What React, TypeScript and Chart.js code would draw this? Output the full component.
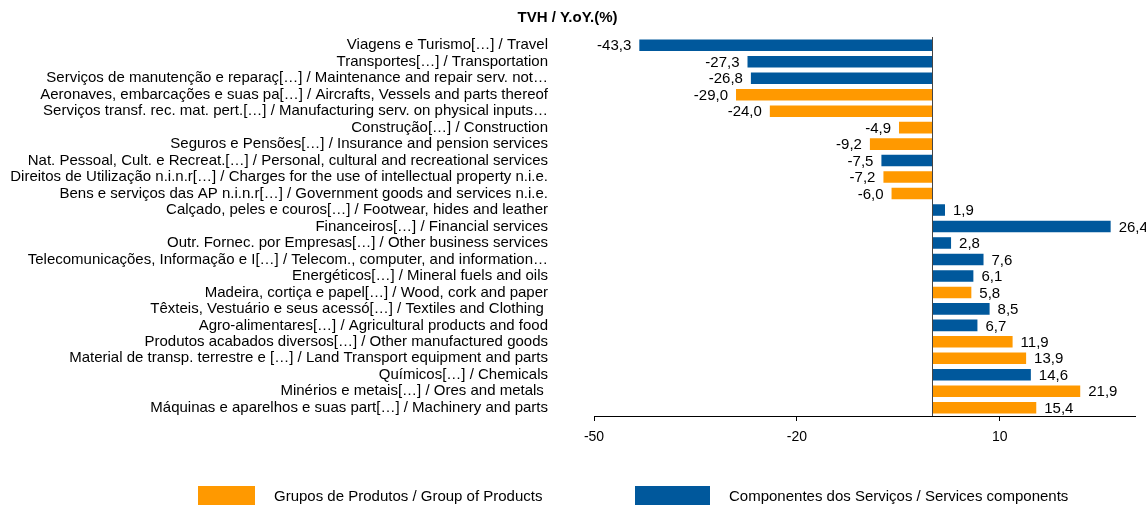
import React, { useEffect, useRef } from "react";
import { Chart, registerables } from "chart.js";

Chart.register(...registerables);

const categories: string[] = [
  "Viagens e Turismo[…] / Travel",
  "Transportes[…] / Transportation",
  "Serviços de manutenção e reparaç[…] / Maintenance and repair serv. not…",
  "Aeronaves, embarcações e suas pa[…] / Aircrafts, Vessels and parts thereof",
  "Serviços transf. rec. mat. pert.[…] / Manufacturing serv. on physical inputs…",
  "Construção[…] / Construction",
  "Seguros e Pensões[…] / Insurance and pension services",
  "Nat. Pessoal, Cult. e Recreat.[…] / Personal, cultural and recreational services",
  "Direitos de Utilização n.i.n.r[…] / Charges for the use of intellectual property n.i.e.",
  "Bens e serviços das AP n.i.n.r[…] / Government goods and services n.i.e.",
  "Calçado, peles e couros[…] / Footwear, hides and leather",
  "Financeiros[…] / Financial services",
  "Outr. Fornec. por Empresas[…] / Other business services",
  "Telecomunicações, Informação e I[…] / Telecom., computer, and information…",
  "Energéticos[…] / Mineral fuels and oils",
  "Madeira, cortiça e papel[…] / Wood, cork and paper",
  "Têxteis, Vestuário e seus acessó[…] / Textiles and Clothing ",
  "Agro-alimentares[…] / Agricultural products and food",
  "Produtos acabados diversos[…] / Other manufactured goods",
  "Material de transp. terrestre e […] / Land Transport equipment and parts",
  "Químicos[…] / Chemicals",
  "Minérios e metais[…] / Ores and metals ",
  "Máquinas e aparelhos e suas part[…] / Machinery and parts",
];

const values: number[] = [
  -43.3, -27.3, -26.8, -29.0, -24.0, -4.9, -9.2, -7.5, -7.2, -6.0,
  1.9, 26.4, 2.8, 7.6, 6.1, 5.8, 8.5, 6.7, 11.9, 13.9, 14.6, 21.9, 15.4,
];

// "P" = Grupos de Produtos, "S" = Componentes dos Serviços
const groups: string[] = [
  "S", "S", "S", "P", "P", "P", "P", "S", "P", "P",
  "S", "S", "S", "S", "S", "P", "S", "S", "P", "P", "S", "P", "P",
];

const seriesNames: string[] = [
  "Grupos de Produtos / Group of Products",
  "Componentes dos Serviços / Services components",
];

const xTicks: number[] = [-50, -20, 10];
const xMin = -50;
const xMax = 30;

const ORANGE = "#FF9900";
const BLUE = "#00589C";
const FONT = "Arial, 'Liberation Sans', sans-serif";

export default function App() {
  const canvasRef = useRef<HTMLCanvasElement | null>(null);

  useEffect(() => {
    document.body.style.margin = "0";
    const canvas = canvasRef.current;
    if (!canvas) return;

    const productsData = values.map((v, i) => (groups[i] === "P" ? v : null));
    const servicesData = values.map((v, i) => (groups[i] === "S" ? v : null));

    const zeroLine = {
      id: "zeroLine",
      afterDatasetsDraw(chart: any) {
        const { ctx, chartArea, scales } = chart;
        const x = Math.round(scales.x.getPixelForValue(0)) + 0.5;
        ctx.save();
        ctx.strokeStyle = "#444444";
        ctx.lineWidth = 1;
        ctx.beginPath();
        ctx.moveTo(x, chartArea.top);
        ctx.lineTo(x, chartArea.bottom);
        ctx.stroke();
        ctx.restore();
      },
    };

    const valueLabels = {
      id: "valueLabels",
      afterDatasetsDraw(chart: any) {
        const { ctx } = chart;
        ctx.save();
        ctx.font = `15px ${FONT}`;
        ctx.fillStyle = "#000";
        ctx.textBaseline = "middle";
        chart.data.datasets.forEach((ds: any, di: number) => {
          const meta = chart.getDatasetMeta(di);
          meta.data.forEach((el: any, i: number) => {
            const v = ds.data[i];
            if (v === null || v === undefined) return;
            const txt = v.toFixed(1).replace(".", ",");
            if (v < 0) {
              ctx.textAlign = "right";
              ctx.fillText(txt, el.x - 8, el.y + 1);
            } else {
              ctx.textAlign = "left";
              ctx.fillText(txt, el.x + 8, el.y + 1);
            }
          });
        });
        ctx.restore();
      },
    };

    const customLegend = {
      id: "customLegend",
      afterDraw(chart: any) {
        const { ctx } = chart;
        const items = [
          { boxX: 198, boxW: 57, textX: 274 },
          { boxX: 635, boxW: 75, textX: 729 },
        ];
        ctx.save();
        ctx.font = `15px ${FONT}`;
        ctx.textBaseline = "middle";
        ctx.textAlign = "left";
        chart.data.datasets.forEach((ds: any, i: number) => {
          const it = items[i];
          ctx.fillStyle = ds.backgroundColor;
          ctx.fillRect(it.boxX, 486, it.boxW, 20);
          ctx.fillStyle = "#000";
          ctx.fillText(ds.label, it.textX, 497);
        });
        ctx.restore();
      },
    };

    const chart = new Chart(canvas, {
      type: "bar",
      data: {
        labels: categories,
        datasets: [
          {
            label: seriesNames[0],
            data: productsData,
            backgroundColor: ORANGE,
            grouped: false,
            barPercentage: 0.7,
            categoryPercentage: 1,
          } as any,
          {
            label: seriesNames[1],
            data: servicesData,
            backgroundColor: BLUE,
            grouped: false,
            barPercentage: 0.7,
            categoryPercentage: 1,
          } as any,
        ],
      },
      options: {
        indexAxis: "y",
        animation: false,
        responsive: false,
        layout: { padding: { left: 0, right: 11, top: 0, bottom: 49 } },
        plugins: {
          legend: { display: false },
          tooltip: { enabled: false },
          title: {
            display: true,
            text: "TVH / Y.oY.(%)",
            color: "#000",
            font: { family: FONT, size: 15, weight: "bold" },
            padding: { top: 9, bottom: 10 },
          },
        },
        scales: {
          x: {
            type: "linear",
            min: xMin,
            max: xMax,
            afterBuildTicks(scale: any) {
              scale.ticks = xTicks.map((v) => ({ value: v }));
            },
            afterFit(scale: any) {
              scale.height = 40;
            },
            grid: {
              display: true,
              drawOnChartArea: false,
              drawTicks: true,
              tickLength: 5,
              color: "#000",
            },
            border: { display: true, color: "#000", width: 1 },
            ticks: {
              color: "#000",
              padding: 8,
              font: { family: FONT, size: 14 },
              callback: (v: any) => String(v),
            },
          },
          y: {
            type: "category",
            afterFit(scale: any) {
              scale.width = 594;
            },
            grid: { display: false, drawTicks: true, tickLength: 46 },
            border: { display: false },
            ticks: {
              color: "#000",
              padding: 0,
              autoSkip: false,
              font: { family: FONT, size: 15 },
            },
          },
        },
      },
      plugins: [zeroLine, valueLabels, customLegend],
    });

    return () => {
      chart.destroy();
    };
  }, []);

  return (
    <div style={{ width: 1146, height: 505, overflow: "hidden" }}>
      <canvas ref={canvasRef} width={1146} height={505} />
    </div>
  );
}
